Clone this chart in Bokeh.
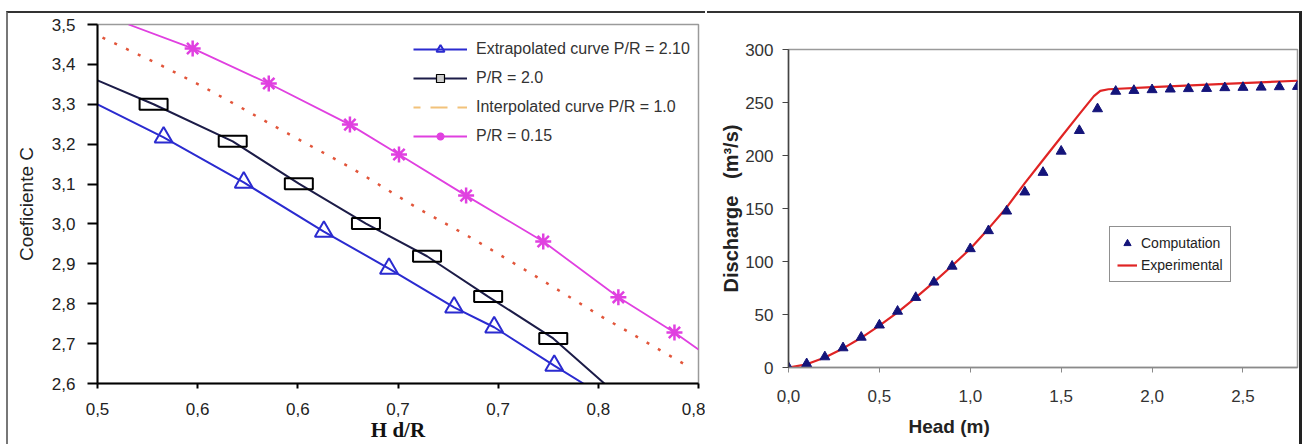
from bokeh.plotting import figure
from bokeh.models import Range1d, FixedTicker, Legend, LegendItem, Title
from bokeh.embed import file_html
from bokeh.resources import INLINE

# ---------------- left panel data ----------------
left_x_ticks = [0.5, 0.55, 0.6, 0.65, 0.7, 0.75, 0.8]
left_x_labels = ["0,5", "0,6", "0,6", "0,7", "0,7", "0,8", "0,8"]
left_y_ticks = [2.6, 2.7, 2.8, 2.9, 3.0, 3.1, 3.2, 3.3, 3.4, 3.5]
left_y_labels = ["2,6", "2,7", "2,8", "2,9", "3,0", "3,1", "3,2", "3,3", "3,4", "3,5"]

ext_line_x = [0.5, 0.533, 0.573, 0.613, 0.6455, 0.678, 0.698, 0.728, 0.7425]
ext_line_y = [3.30, 3.217, 3.104, 2.981, 2.888, 2.791, 2.741, 2.645, 2.60]
ext_mark_x = [0.533, 0.573, 0.613, 0.6455, 0.678, 0.698, 0.728]
ext_mark_y = [3.217, 3.104, 2.981, 2.888, 2.791, 2.741, 2.645]

pr20_line_x = [0.5, 0.528, 0.5675, 0.6005, 0.634, 0.6645, 0.695, 0.7275, 0.753]
pr20_line_y = [3.36, 3.30, 3.207, 3.101, 3.001, 2.919, 2.818, 2.713, 2.60]
pr20_mark_x = [0.528, 0.5675, 0.6005, 0.634, 0.6645, 0.695, 0.7275]
pr20_mark_y = [3.30, 3.207, 3.101, 3.001, 2.919, 2.818, 2.713]

int_x = [0.5025, 0.53, 0.5515, 0.5715, 0.593, 0.6265, 0.66, 0.688, 0.718, 0.7515, 0.7655, 0.7965]
int_y = [3.467, 3.402, 3.347, 3.292, 3.232, 3.141, 3.039, 2.961, 2.871, 2.768, 2.728, 2.638]

pr015_line_x = [0.5155, 0.5475, 0.5855, 0.626, 0.6505, 0.684, 0.7225, 0.76, 0.788, 0.8]
pr015_line_y = [3.5, 3.440, 3.352, 3.249, 3.174, 3.071, 2.956, 2.816, 2.728, 2.685]
pr015_mark_x = [0.5475, 0.5855, 0.626, 0.6505, 0.684, 0.7225, 0.76, 0.788]
pr015_mark_y = [3.440, 3.352, 3.249, 3.174, 3.071, 2.956, 2.816, 2.728]

# ---------------- right panel data ----------------
right_x_ticks = [0.0, 0.5, 1.0, 1.5, 2.0, 2.5]
right_x_labels = ["0,0", "0,5", "1,0", "1,5", "2,0", "2,5"]
right_y_ticks = [0, 50, 100, 150, 200, 250, 300]

comp_x = [0.0, 0.1, 0.2, 0.3, 0.4, 0.5, 0.6, 0.7, 0.8, 0.9, 1.0, 1.1, 1.2, 1.3, 1.4,
          1.5, 1.6, 1.7, 1.8, 1.9, 2.0, 2.1, 2.2, 2.3, 2.4, 2.5, 2.6, 2.7, 2.8]
comp_y = [0, 3.5, 10, 18.5, 28.5, 40, 53, 66, 80.5, 95.5, 112, 129, 147.5, 165.5, 184,
          204, 223.5, 244, 260.5, 261.3, 262, 262.6, 263, 263.2, 263.9, 264.2, 264.4, 264.8, 265.1]

exp_x = [0.0, 0.1, 0.2, 0.3, 0.4, 0.5, 0.6, 0.7, 0.8, 0.9, 1.0, 1.1, 1.2, 1.3, 1.4,
         1.5, 1.6, 1.68, 1.715, 1.76, 2.0, 2.4, 2.8]
exp_y = [0, 3, 9.5, 18, 28, 39.5, 52, 66, 80.5, 96, 112, 131, 151, 174, 195.8,
         217.4, 239, 256, 261, 262.5, 264.5, 267.5, 270.5]

FONT = "Liberation Sans"

# ================= left figure =================
p1 = figure(width=699, height=433, output_backend="svg", toolbar_location=None,
            x_range=Range1d(0.5, 0.8), y_range=Range1d(2.6, 3.5))
p1.styles = {"position": "absolute", "left": "6px", "top": "11px",
             "border-left": "2px solid #777777", "border-top": "2px solid #333333"}
p1.min_border = 0
p1.min_border_left = 89
p1.min_border_right = 9
p1.min_border_top = 11
p1.min_border_bottom = 63
p1.grid.visible = False
p1.outline_line_color = "#9a9a9a"
p1.outline_line_width = 1.5
p1.background_fill_color = "white"
p1.border_fill_color = "white"

p1.xaxis.ticker = FixedTicker(ticks=left_x_ticks)
p1.xaxis.major_label_overrides = dict(zip(left_x_ticks, left_x_labels))
p1.yaxis.ticker = FixedTicker(ticks=left_y_ticks)
p1.yaxis.major_label_overrides = dict(zip(left_y_ticks, left_y_labels))
for ax in (p1.xaxis, p1.yaxis):
    ax.axis_line_color = "black"
    ax.axis_line_width = 2
    ax.major_tick_line_color = "black"
    ax.major_tick_line_width = 2
    ax.minor_tick_line_color = None
    ax.major_tick_in = 0
    ax.major_label_text_font = FONT
    ax.major_label_text_font_size = "17px"
    ax.major_label_text_color = "#222222"
p1.yaxis.major_tick_out = 10
p1.yaxis.major_label_standoff = 12
p1.xaxis.major_tick_out = 5
p1.xaxis.major_label_standoff = 14

p1.yaxis.axis_label = "Coeficiente C"
p1.yaxis.axis_label_text_font = FONT
p1.yaxis.axis_label_text_font_style = "normal"
p1.yaxis.axis_label_text_font_size = "19px"
p1.yaxis.axis_label_text_color = "#222222"
p1.yaxis.axis_label_standoff = 12

p1.xaxis.axis_label = "H d/R"
p1.xaxis.axis_label_text_font = "Liberation Serif"
p1.xaxis.axis_label_text_font_style = "bold"
p1.xaxis.axis_label_text_font_size = "21px"
p1.xaxis.axis_label_text_color = "#111111"
p1.xaxis.axis_label_standoff = 0

BLUE = "#2b2bd0"
NAVY = "#1c1c48"
REDDOT = "#e2553a"
ORANGE = "#f2c27a"
MAGENTA = "#e040e0"

r_ext_line = p1.line(ext_line_x, ext_line_y, line_color=BLUE, line_width=2)
r_ext_mark = p1.scatter(ext_mark_x, ext_mark_y, marker="triangle", size=18,
                        fill_color=None, line_color=BLUE, line_width=2)

r_20_line = p1.line(pr20_line_x, pr20_line_y, line_color=NAVY, line_width=2)
p1.rect(pr20_mark_x, pr20_mark_y, width=28, height=11, width_units="screen",
        height_units="screen", fill_color=None, line_color="black", line_width=2)
# legend-only marker (hidden in the plot area)
r_20_leg = p1.scatter(pr20_mark_x, pr20_mark_y, marker="square", size=8,
                      fill_color="#cccccc", line_color="black", line_width=1.2,
                      visible=False)

p1.line(int_x, int_y, line_color=REDDOT, line_width=2.5, line_dash="3 10")
# legend-only dashed sample (hidden in the plot area)
r_int_leg = p1.line(int_x, int_y, line_color=ORANGE, line_width=2, line_dash="17 10",
                    line_dash_offset=10, visible=False)

r_015_line = p1.line(pr015_line_x, pr015_line_y, line_color=MAGENTA, line_width=1.8)
r_015_mark = p1.scatter(pr015_mark_x, pr015_mark_y, marker="asterisk", size=16,
                        line_color=MAGENTA, line_width=2.5)

leg1 = Legend(items=[
    LegendItem(label="Extrapolated curve P/R = 2.10", renderers=[r_ext_line, r_ext_mark]),
    LegendItem(label="P/R = 2.0", renderers=[r_20_line, r_20_leg]),
    LegendItem(label="Interpolated curve P/R = 1.0", renderers=[r_int_leg]),
    LegendItem(label="P/R = 0.15", renderers=[r_015_line, r_015_mark]),
], location=(316, 237))
leg1.click_policy = "none"
leg1.inactive_fill_alpha = 0
leg1.border_line_color = None
leg1.background_fill_alpha = 0
leg1.padding = 0
leg1.margin = 0
leg1.glyph_width = 54
leg1.glyph_height = 20
leg1.label_height = 20
leg1.spacing = 9
leg1.label_standoff = 9
leg1.label_text_font = FONT
leg1.label_text_font_size = "16px"
leg1.label_text_color = "#333333"
p1.add_layout(leg1)

# ================= right figure =================
p2 = figure(width=595, height=433, output_backend="svg", toolbar_location=None,
            x_range=Range1d(0, 2.8), y_range=Range1d(0, 300))
p2.styles = {"position": "absolute", "left": "707px", "top": "11px",
             "border-top": "2px solid #333333", "border-right": "3px solid #222222"}
p2.min_border = 0
p2.min_border_left = 81
p2.min_border_right = 5
p2.min_border_top = 36
p2.min_border_bottom = 79
p2.grid.visible = False
p2.outline_line_color = "#9a9a9a"
p2.outline_line_width = 1.5
p2.border_fill_color = "white"

p2.xaxis.ticker = FixedTicker(ticks=right_x_ticks)
p2.xaxis.major_label_overrides = dict(zip(right_x_ticks, right_x_labels))
p2.yaxis.ticker = FixedTicker(ticks=right_y_ticks)
for ax in (p2.xaxis, p2.yaxis):
    ax.minor_tick_line_color = None
    ax.major_tick_in = 0
    ax.major_label_text_font = FONT
    ax.major_label_text_font_size = "17px"
    ax.major_label_text_color = "#333333"
p2.yaxis.axis_line_color = "#444444"
p2.yaxis.axis_line_width = 1.5
p2.yaxis.major_tick_line_color = "#444444"
p2.yaxis.major_tick_out = 6
p2.yaxis.major_label_standoff = 9
p2.xaxis.axis_line_color = "#8a8a8a"
p2.xaxis.axis_line_width = 1.5
p2.xaxis.major_tick_line_color = "#8a8a8a"
p2.xaxis.major_tick_out = 5
p2.xaxis.major_label_standoff = 17

p2.yaxis.axis_label = "Discharge\u00a0\u00a0\u00a0(m³/s)"
p2.yaxis.axis_label_text_font = FONT
p2.yaxis.axis_label_text_font_style = "bold"
p2.yaxis.axis_label_text_font_size = "20px"
p2.yaxis.axis_label_text_color = "#222222"
p2.yaxis.axis_label_standoff = 0

r_exp = p2.line(exp_x, exp_y, line_color="#e02424", line_width=2.2)
r_comp = p2.scatter(comp_x, comp_y, marker="triangle", size=10,
                    fill_color="#14147a", line_color="#14147a")

p2.add_layout(Title(text="Head (m)", align="left", offset=120, standoff=18,
                    text_font=FONT, text_font_style="bold", text_font_size="19px",
                    text_color="#222222"), "below")

leg2 = Legend(items=[
    LegendItem(label="Computation", renderers=[r_comp]),
    LegendItem(label="Experimental", renderers=[r_exp]),
], location=(321, 85))
leg2.border_line_color = "#222222"
leg2.border_line_width = 1.3
leg2.padding = 7
leg2.margin = 0
leg2.glyph_width = 20
leg2.glyph_height = 18
leg2.label_height = 18
leg2.spacing = 4
leg2.label_standoff = 4
leg2.label_text_font = FONT
leg2.label_text_font_size = "14px"
leg2.label_text_color = "#222222"
p2.add_layout(leg2)

open("out.html", "w").write(file_html([p1, p2], INLINE))
